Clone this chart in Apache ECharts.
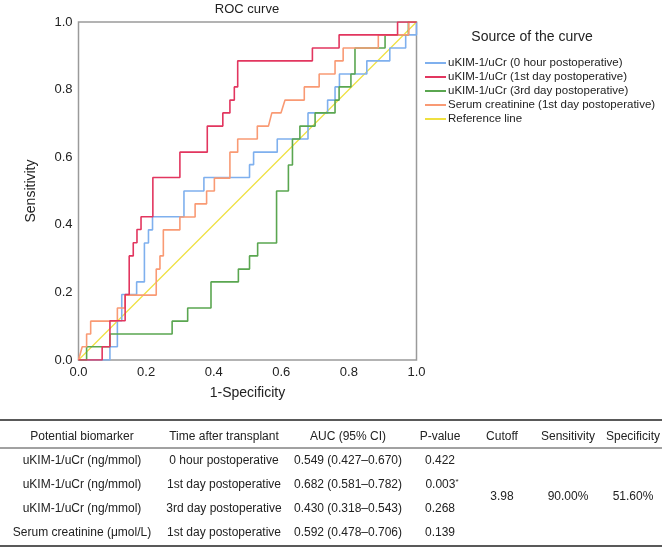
<!DOCTYPE html>
<html><head><meta charset="utf-8">
<script src="https://cdn.jsdelivr.net/npm/echarts@6/dist/echarts.min.js"></script>
<style>html,body{margin:0;padding:0;background:#fff}#c{width:662px;height:548px}</style>
</head><body><div id="c"></div>
<script>
// ---------- data ----------
const seriesNames = [
  'uKIM-1/uCr (0 hour postoperative)',
  'uKIM-1/uCr (1st day postoperative)',
  'uKIM-1/uCr (3rd day postoperative)',
  'Serum creatinine (1st day postoperative)',
  'Reference line'
];
const curve0h = [[0,0],[0.093,0],[0.093,0.039],[0.115,0.039],[0.115,0.116],[0.128,0.116],[0.128,0.194],[0.172,0.194],[0.172,0.231],[0.195,0.231],[0.195,0.346],[0.207,0.346],[0.207,0.385],[0.219,0.385],[0.219,0.424],[0.312,0.424],[0.312,0.500],[0.371,0.500],[0.371,0.540],[0.506,0.540],[0.506,0.578],[0.518,0.578],[0.518,0.615],[0.588,0.615],[0.588,0.654],[0.679,0.654],[0.679,0.731],[0.737,0.731],[0.737,0.769],[0.759,0.769],[0.759,0.808],[0.772,0.808],[0.772,0.846],[0.853,0.846],[0.853,0.885],[0.921,0.885],[0.921,0.923],[0.968,0.923],[0.968,0.962],[1,0.962],[1,1]];
const curve1d = [[0,0],[0.070,0],[0.070,0.039],[0.093,0.039],[0.093,0.116],[0.138,0.116],[0.138,0.194],[0.150,0.194],[0.150,0.308],[0.162,0.308],[0.162,0.347],[0.173,0.347],[0.173,0.386],[0.185,0.386],[0.185,0.424],[0.220,0.424],[0.220,0.540],[0.300,0.540],[0.300,0.615],[0.381,0.615],[0.381,0.692],[0.427,0.692],[0.427,0.731],[0.448,0.731],[0.448,0.769],[0.461,0.769],[0.461,0.808],[0.471,0.808],[0.471,0.885],[0.692,0.885],[0.692,0.923],[0.771,0.923],[0.771,0.962],[0.944,0.962],[0.944,1],[1,1]];
const curve3d = [[0,0],[0.024,0],[0.024,0.039],[0.093,0.039],[0.093,0.077],[0.277,0.077],[0.277,0.115],[0.323,0.115],[0.323,0.154],[0.392,0.154],[0.392,0.231],[0.473,0.231],[0.473,0.269],[0.506,0.269],[0.506,0.308],[0.530,0.308],[0.530,0.346],[0.586,0.346],[0.586,0.500],[0.621,0.500],[0.621,0.577],[0.633,0.577],[0.633,0.654],[0.655,0.654],[0.655,0.692],[0.700,0.692],[0.700,0.731],[0.759,0.731],[0.759,0.769],[0.771,0.769],[0.771,0.808],[0.806,0.808],[0.806,0.846],[0.818,0.846],[0.818,0.923],[0.907,0.923],[0.907,0.962],[0.976,0.962],[0.976,1],[1,1]];
const curveScr = [[0,0],[0.011,0.039],[0.024,0.039],[0.024,0.077],[0.036,0.077],[0.036,0.115],[0.115,0.115],[0.115,0.154],[0.138,0.154],[0.138,0.192],[0.230,0.192],[0.230,0.269],[0.241,0.269],[0.241,0.308],[0.251,0.308],[0.251,0.385],[0.300,0.385],[0.300,0.423],[0.345,0.423],[0.345,0.462],[0.379,0.462],[0.379,0.500],[0.402,0.500],[0.402,0.538],[0.448,0.538],[0.448,0.615],[0.471,0.615],[0.471,0.654],[0.529,0.654],[0.529,0.692],[0.562,0.692],[0.572,0.731],[0.599,0.731],[0.611,0.769],[0.668,0.769],[0.668,0.808],[0.712,0.808],[0.712,0.846],[0.759,0.846],[0.759,0.885],[0.783,0.885],[0.783,0.923],[0.887,0.923],[0.887,0.962],[0.977,0.962],[0.977,1],[1,1]];
const refLine = [[0,0],[1,1]];

const tableHeader = ['Potential biomarker','Time after transplant','AUC (95% CI)','P-value','Cutoff','Sensitivity','Specificity'];
const tableBiomarker = ['uKIM-1/uCr (ng/mmol)','uKIM-1/uCr (ng/mmol)','uKIM-1/uCr (ng/mmol)','Serum creatinine (μmol/L)'];
const tableTime = ['0 hour postoperative','1st day postoperative','3rd day postoperative','1st day postoperative'];
const tableAUC = ['0.549 (0.427–0.670)','0.682 (0.581–0.782)','0.430 (0.318–0.543)','0.592 (0.478–0.706)'];
const tableP = ['0.422','0.003','0.268','0.139'];
const tablePMark = ['','*','',''];
const tableMerged = ['3.98','90.00%','51.60%'];

// ---------- styles ----------
const FONT = "'Liberation Sans', Arial, Helvetica, sans-serif";
const colors = ['#7fb0ee','#e2365f','#5aa650','#f99a74','#efe040'];
const colCenters = [82, 224, 348, 440, 502, 568, 633];
const headerY = 437, rowYs = [461, 485, 509, 533], mergedY = 497;

const chart = echarts.init(document.getElementById('c'), null, {renderer: 'canvas'});
const curves = [curve0h, curve1d, curve3d, curveScr, refLine];

const graphics = [];
graphics.push({type:'text', style:{x:532, y:37, text:'Source of the curve', font:'14px '+FONT, fill:'#222', textAlign:'center', textVerticalAlign:'middle'}});
// table rules
graphics.push({type:'line', shape:{x1:0,y1:420,x2:662,y2:420}, style:{stroke:'#222', lineWidth:1.5}});
graphics.push({type:'line', shape:{x1:0,y1:448,x2:662,y2:448}, style:{stroke:'#444', lineWidth:1}});
graphics.push({type:'line', shape:{x1:0,y1:546,x2:662,y2:546}, style:{stroke:'#222', lineWidth:1.5}});
function cell(x, y, t, rich) {
  const s = {x:x, y:y, text:t, font:'12px '+FONT, fill:'#222', textAlign:'center', textVerticalAlign:'middle'};
  if (rich) s.rich = rich;
  graphics.push({type:'text', style:s});
}
tableHeader.forEach((h,i)=>cell(colCenters[i], headerY, h));
rowYs.forEach((y,r)=>{
  cell(colCenters[0], y, tableBiomarker[r]);
  cell(colCenters[1], y, tableTime[r]);
  cell(colCenters[2], y, tableAUC[r]);
  if (tablePMark[r]) cell(colCenters[3]+2, y, tableP[r] + '{s|' + tablePMark[r] + '}', {s:{fontSize:8, verticalAlign:'top', fill:'#222', fontFamily:FONT, padding:[0,0,6,0]}});
  else cell(colCenters[3], y, tableP[r]);
});
tableMerged.forEach((t,i)=>cell(colCenters[4+i], mergedY, t));

const option = {
  backgroundColor: '#fff',
  animation: false,
  title: {text:'ROC curve', left: 247, top: 3, padding: 0, textAlign:'center',
    textStyle:{fontSize:13, fontWeight:'normal', color:'#222', fontFamily:FONT}},
  grid: {left:78.5, top:22, width:338, height:338, show:true, borderColor:'#9a9a9a', borderWidth:1.5, backgroundColor:'#fff'},
  legend: {
    orient:'vertical', left:425, top:56, itemWidth:21, itemHeight:2, itemGap:0,
    icon:'rect', padding:0,
    textStyle:{fontSize:11.5, color:'#222', fontFamily:FONT, lineHeight:14, padding:[0,0,0,-3]},
    data: seriesNames
  },
  xAxis: {type:'value', min:0, max:1, interval:0.2,
    name:'1-Specificity', nameLocation:'middle', nameGap:26,
    nameTextStyle:{fontSize:14, color:'#222', fontFamily:FONT},
    axisLine:{show:false}, axisTick:{show:false}, splitLine:{show:false},
    axisLabel:{fontSize:13, color:'#222', fontFamily:FONT, margin:6, formatter:v=>v.toFixed(1)}},
  yAxis: {type:'value', min:0, max:1, interval:0.2,
    name:'Sensitivity', nameLocation:'middle', nameGap:40,
    nameTextStyle:{fontSize:14, color:'#222', fontFamily:FONT},
    axisLine:{show:false}, axisTick:{show:false}, splitLine:{show:false},
    axisLabel:{fontSize:13, color:'#222', fontFamily:FONT, margin:6, formatter:v=>v.toFixed(1)}},
  graphic: graphics,
  series: seriesNames.map((n,i)=>({
    name:n, type:'line', data:curves[i], showSymbol:false, symbol:'none',
    color: colors[i],
    lineStyle:{color:colors[i], width: i===4 ? 1.2 : 1.6},
    z: [2,5,3,4,1][i]
  }))
};
chart.setOption(option);
</script></body></html>
